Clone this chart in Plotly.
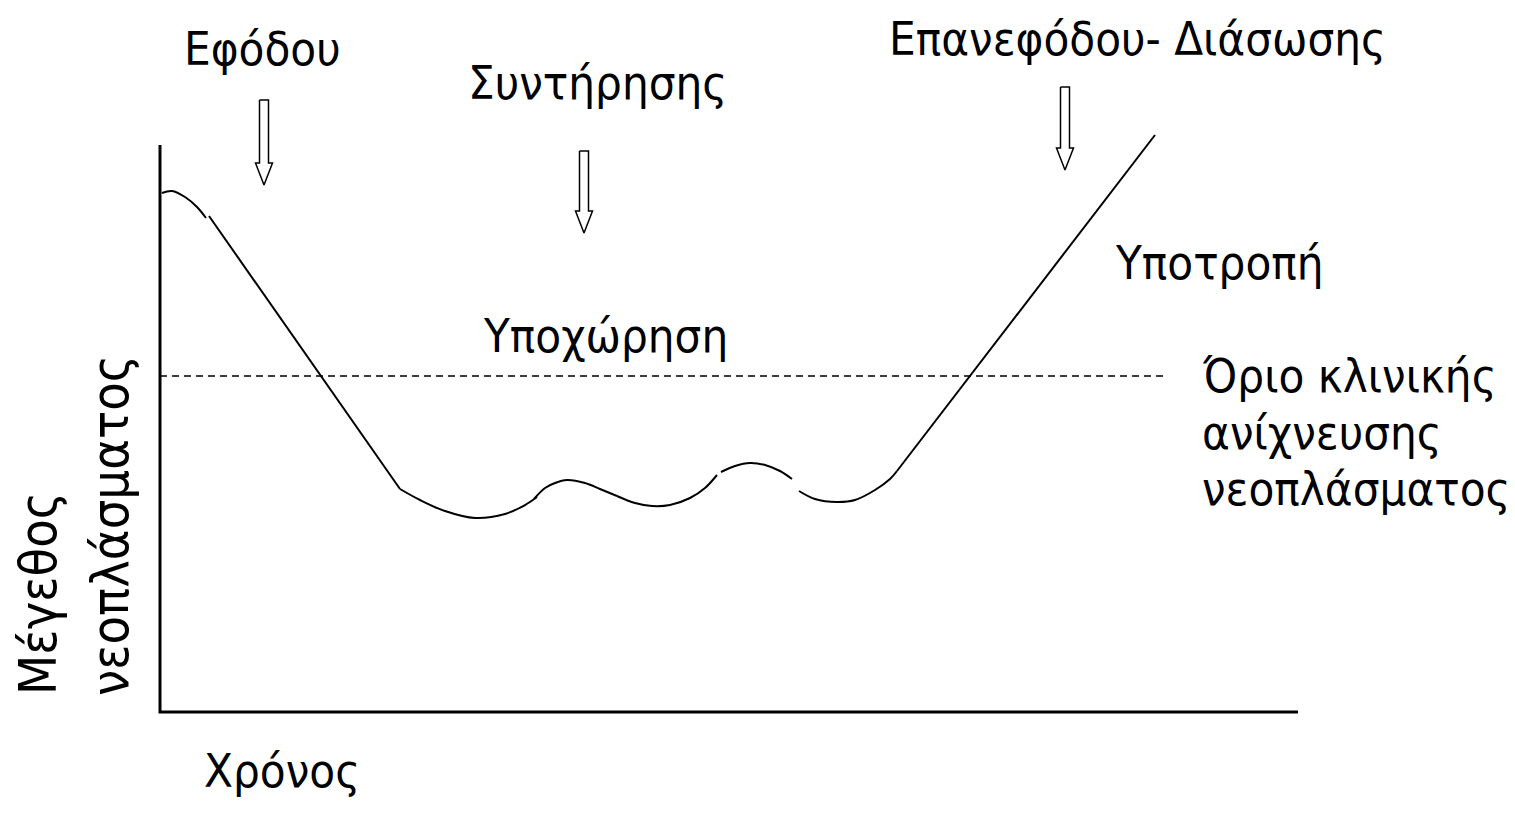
import plotly.graph_objects as go

# ---- data (diagram coordinates: time on x, tumour size on y; origin at the axes corner) ----
seg_a_x = [2, 12, 25, 37, 46]
seg_a_y = [519, 521, 515, 505, 494]
seg_b_x = [49, 240]
seg_b_y = [496, 223]
seg_c_x = [240, 260, 285, 315, 345, 365, 377]
seg_c_y = [223, 212, 201, 194, 198, 207, 215]
seg_d_x = [374, 385, 395, 407, 425, 440, 457]
seg_d_y = [213, 224, 229, 232, 229, 223, 216]
seg_e_x = [457, 475, 492, 510, 530, 545, 557]
seg_e_y = [216, 209, 206, 207, 214, 224, 237]
seg_f_x = [561, 575, 590, 605, 620, 632]
seg_f_y = [240, 246, 249, 247, 241, 233]
seg_g_x = [639, 655, 677, 695, 715, 730, 737]
seg_g_y = [221, 213, 210, 212, 222, 233, 241]
seg_h_x = [737, 995]
seg_h_y = [241, 577]

threshold_y = 336
threshold_x = [0, 1005]
x_axis_len = 1138
y_axis_len = 567

# arrows: centre x, top of shaft, tip
arrow_x = [104, 424, 905]
arrow_top = [612, 561, 625]
arrow_tip = [527, 479, 542]

phase_labels = ["Εφόδου", "Συντήρησης", "Επανεφόδου- Διάσωσης"]
phase_x = [102, 437, 977]
phase_y = [664, 630, 674]

FONT = "DejaVu Sans Condensed"
fig = go.Figure()

segments = [(seg_a_x, seg_a_y), (seg_b_x, seg_b_y), (seg_c_x, seg_c_y), (seg_d_x, seg_d_y),
            (seg_e_x, seg_e_y), (seg_f_x, seg_f_y), (seg_g_x, seg_g_y), (seg_h_x, seg_h_y)]
for sx, sy in segments:
    fig.add_trace(go.Scatter(x=sx, y=sy, mode="lines", line=dict(color="black", width=2, shape="spline", smoothing=1.0),
                             hoverinfo="skip", showlegend=False))

# threshold (dashed)
fig.add_trace(go.Scatter(x=threshold_x, y=[threshold_y, threshold_y], mode="lines",
                         line=dict(color="black", width=1.5, dash="7px,5px"), hoverinfo="skip", showlegend=False))

# axes
fig.add_trace(go.Scatter(x=[0, 0, x_axis_len], y=[y_axis_len, 0, 0], mode="lines",
                         line=dict(color="black", width=3), hoverinfo="skip", showlegend=False))

# hollow arrows
sw, hw, hl = 4.5, 8.5, 22
for ax, top, tip in zip(arrow_x, arrow_top, arrow_tip):
    hb = tip + hl
    xs = [ax - sw, ax + sw, ax + sw, ax + hw, ax, ax - hw, ax - sw, ax - sw]
    ys = [top, top, hb, hb, tip, hb, hb, top]
    fig.add_trace(go.Scatter(x=xs, y=ys, mode="lines", fill="toself", fillcolor="white",
                             line=dict(color="black", width=1.5), hoverinfo="skip", showlegend=False))

ann = []
def add_text(t, x, y, size=47, xanchor="center", angle=0):
    ann.append(dict(text=t, x=x, y=y, xref="x", yref="y", showarrow=False, xanchor=xanchor,
                    yanchor="middle", textangle=angle, font=dict(family=FONT, size=size, color="black")))

for t, x, y in zip(phase_labels, phase_x, phase_y):
    add_text(t, x, y)
add_text("Υποτροπή", 953, 450, xanchor="left")
add_text("Υποχώρηση", 445, 377)
add_text("Όριο κλινικής", 1040, 337, xanchor="left")
add_text("ανίχνευσης", 1040, 280, xanchor="left")
add_text("νεοπλάσματος", 1040, 224, xanchor="left")
add_text("Χρόνος", 122, -58)
add_text("Μέγεθος", -122, 118, size=52, angle=-90)
add_text("νεοπλάσματος", -50, 186, size=52, angle=-90)

fig.update_layout(
    width=1515, height=820, margin=dict(l=0, r=0, t=0, b=0),
    paper_bgcolor="white", plot_bgcolor="white", annotations=ann,
    xaxis=dict(range=[-160, 1355], visible=False, fixedrange=True),
    yaxis=dict(range=[-108, 712], visible=False, fixedrange=True),
    showlegend=False,
)
fig.write_html("out.html", config={"displayModeBar": False},
               post_script="document.body.style.margin='0px';")
